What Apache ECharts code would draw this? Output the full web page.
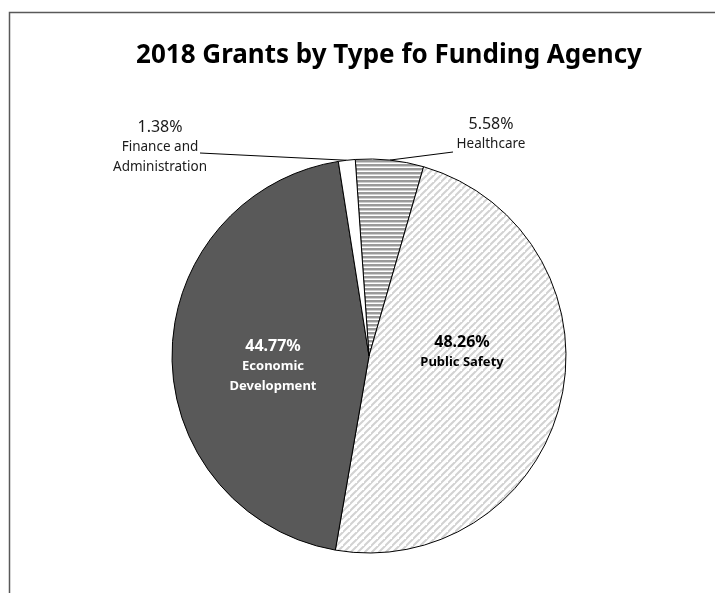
<!DOCTYPE html>
<html>
<head>
<meta charset="utf-8">
<script src="https://cdn.jsdelivr.net/npm/echarts@6/dist/echarts.min.js"></script>
<style>
html,body{margin:0;padding:0;background:#fff;}
#chart{width:715px;height:593px;}
</style>
</head>
<body>
<div id="chart"></div>
<script>
// ---- data ----
var categories = ['Healthcare', 'Public Safety', 'Economic Development', 'Finance and Administration'];
var labelNames = ['Healthcare', 'Public Safety', 'Economic\nDevelopment', 'Finance and\nAdministration'];
var percents = [5.58, 48.26, 44.77, 1.38];

// ---- layout / style constants ----
var FONT = '"Noto Sans", "Open Sans", sans-serif';
var labelCenters = [[491, 134], [462, 352], [273, 366], [160, 147]];
var lineEndOffsets = [[-38, 18], null, null, [40, 6]];

function makePattern(kind) {
  var c = document.createElement('canvas');
  var ctx;
  if (kind === 'horiz') {
    c.width = 4; c.height = 4;
    ctx = c.getContext('2d');
    ctx.fillStyle = '#ffffff'; ctx.fillRect(0, 0, 4, 4);
    ctx.fillStyle = '#9a9a9a'; ctx.fillRect(0, 0, 4, 2);
    ctx.fillStyle = '#cfcfcf'; ctx.fillRect(0, 2, 4, 1);
  } else {
    var s = 7;
    c.width = s; c.height = s;
    ctx = c.getContext('2d');
    ctx.fillStyle = '#ffffff'; ctx.fillRect(0, 0, s, s);
    ctx.strokeStyle = '#d2d2d2'; ctx.lineWidth = 2;
    ctx.beginPath();
    ctx.moveTo(-1, s + 1); ctx.lineTo(s + 1, -1);
    ctx.moveTo(-1 - s, s + 1); ctx.lineTo(1, -1);
    ctx.moveTo(s - 1, 2 * s + 1); ctx.lineTo(2 * s + 1, s - 1);
    ctx.stroke();
  }
  return { image: c, repeat: 'repeat' };
}

var fills = [makePattern('horiz'), makePattern('diag'), '#595959', '#ffffff'];
var inside = [false, true, true, false];
var labelColors = ['#1a1a1a', '#000000', '#ffffff', '#1a1a1a'];

var pieData = categories.map(function (name, i) {
  return {
    name: name,
    value: percents[i],
    itemStyle: { color: fills[i] },
    label: {
      position: inside[i] ? 'inside' : 'outside',
      formatter: '{p|' + percents[i].toFixed(2) + '%}\n{n|' + labelNames[i] + '}',
      rich: inside[i] ? {
        p: { fontSize: 16, fontWeight: 'bold', color: labelColors[i], fontFamily: FONT, lineHeight: 21, align: 'center' },
        n: { fontSize: 13, fontWeight: 'bold', color: labelColors[i], fontFamily: FONT, lineHeight: 20, align: 'center' }
      } : {
        p: { fontSize: 16, color: labelColors[i], fontFamily: FONT, lineHeight: 21, align: 'center' },
        n: { fontSize: 13.5, color: labelColors[i], fontFamily: FONT, lineHeight: 20, align: 'center' }
      }
    },
    labelLine: { show: !inside[i] }
  };
});

var chart = echarts.init(document.getElementById('chart'));
chart.setOption({
  animation: false,
  backgroundColor: '#ffffff',
  graphic: [{
    type: 'rect', left: 7, top: 10, silent: true,
    shape: { width: 900, height: 900 },
    style: { fill: 'none', stroke: '#595959', lineWidth: 1.5 }
  }],
  title: {
    text: '2018 Grants by Type fo Funding Agency',
    left: 384, top: 38, textAlign: 'center',
    textStyle: { fontFamily: FONT, fontSize: 26, fontWeight: 'bold', color: '#000' }
  },
  series: [{
    type: 'pie',
    center: [369, 356],
    radius: [0, 197],
    startAngle: 94,
    clockwise: true,
    avoidLabelOverlap: false,
    data: pieData,
    itemStyle: { borderColor: '#000', borderWidth: 1 },
    label: { show: true },
    labelLine: { show: true, length: 5, length2: 20, smooth: false, lineStyle: { color: '#000', width: 1 } },
    emphasis: { disabled: true },
    labelLayout: function (params) {
      var i = params.dataIndex;
      var c = labelCenters[i];
      var out = { x: c[0], y: c[1], align: 'center', verticalAlign: 'middle' };
      if (lineEndOffsets[i] && params.labelLinePoints) {
        var p0 = params.labelLinePoints[0];
        var end = [c[0] + lineEndOffsets[i][0], c[1] + lineEndOffsets[i][1]];
        out.labelLinePoints = [[p0[0], p0[1]], [p0[0], p0[1]], end];
      }
      return out;
    }
  }]
});
</script>
</body>
</html>
